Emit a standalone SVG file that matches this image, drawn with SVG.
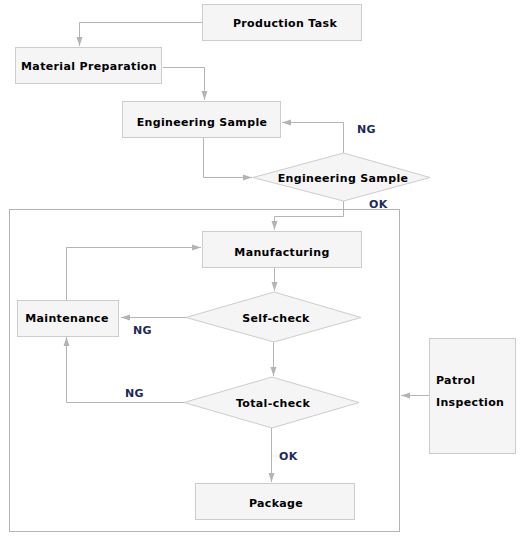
<svg xmlns="http://www.w3.org/2000/svg" width="526" height="549" viewBox="0 0 526 549">
<style>
.box{fill:#f5f5f5;stroke:#cccccc;stroke-width:1}
.dia{fill:#f5f5f5;stroke:#cccccc;stroke-width:1}
.t{font-family:"DejaVu Sans",Verdana,sans-serif;font-weight:bold;font-size:11px;letter-spacing:0.35px;fill:#000;text-anchor:middle;dominant-baseline:central}
.lbl{font-family:"DejaVu Sans",Verdana,sans-serif;font-weight:bold;font-size:11px;letter-spacing:0.35px;fill:#1a2a5a;dominant-baseline:central}
.c{fill:none;stroke:#b4b4b4;stroke-width:1}
</style>
<defs>
<marker id="ah" markerWidth="10" markerHeight="8" refX="9" refY="4" orient="auto" markerUnits="userSpaceOnUse">
<path d="M0,1 L9,4 L0,7 Z" fill="#b4b4b4"/>
</marker>
</defs>
<rect x="0" y="0" width="526" height="549" fill="#ffffff"/>
<g id="container"><rect x="9.5" y="209.5" width="390" height="322" fill="none" stroke="#b4b4b4"/></g>
<g id="connectors">
<path class="c" d="M202,22.5 H79.5 V46" marker-end="url(#ah)"/>
<path class="c" d="M163,67.5 H204.5 V100" marker-end="url(#ah)"/>
<path class="c" d="M203.5,137 V177.5 H252" marker-end="url(#ah)"/>
<path class="c" d="M343.5,153 V122.5 H282" marker-end="url(#ah)"/>
<path class="c" d="M343.5,201 V216.5 H274.5 V230" marker-end="url(#ah)"/>
<path class="c" d="M274.5,267 V291" marker-end="url(#ah)"/>
<path class="c" d="M186,317.5 H121" marker-end="url(#ah)"/>
<path class="c" d="M66.5,300 V247.5 H201" marker-end="url(#ah)"/>
<path class="c" d="M273.5,342 V376" marker-end="url(#ah)"/>
<path class="c" d="M184,402.5 H66.5 V337" marker-end="url(#ah)"/>
<path class="c" d="M271.5,428 V482" marker-end="url(#ah)"/>
<path class="c" d="M429,395.5 H401" marker-end="url(#ah)"/>
</g>
<g id="production-task"><rect class="box" x="202.5" y="4.5" width="159" height="36"/><text class="t" x="285" y="23">Production Task</text></g>
<g id="material-preparation"><rect class="box" x="15.5" y="47.5" width="146" height="36"/><text class="t" x="89" y="66">Material Preparation</text></g>
<g id="engineering-sample-box"><rect class="box" x="122.5" y="101.5" width="158" height="36"/><text class="t" x="202" y="122">Engineering Sample</text></g>
<g id="engineering-sample-decision"><polygon class="dia" points="253,177.5 343.5,153 430,177.5 343.5,201"/><text class="t" x="343" y="178">Engineering Sample</text></g>
<g id="manufacturing"><rect class="box" x="202.5" y="231.5" width="159" height="36"/><text class="t" x="282" y="252">Manufacturing</text></g>
<g id="self-check"><polygon class="dia" points="186,317.5 274,292 361,317.5 274,342"/><text class="t" x="276" y="318">Self-check</text></g>
<g id="maintenance"><rect class="box" x="17.5" y="300.5" width="101" height="36"/><text class="t" x="67" y="318">Maintenance</text></g>
<g id="total-check"><polygon class="dia" points="184,402.5 272,377 359,402.5 272,428"/><text class="t" x="273" y="403">Total-check</text></g>
<g id="package"><rect class="box" x="195.5" y="483.5" width="159" height="36"/><text class="t" x="276" y="503">Package</text></g>
<g id="patrol-inspection"><rect class="box" x="429.5" y="338.5" width="86" height="115"/><text class="t" x="436" y="380" style="text-anchor:start">Patrol</text><text class="t" x="436" y="402" style="text-anchor:start">Inspection</text></g>
<g id="labels">
<text class="lbl" x="357" y="129">NG</text>
<text class="lbl" x="369" y="204">OK</text>
<text class="lbl" x="133" y="330">NG</text>
<text class="lbl" x="125" y="393">NG</text>
<text class="lbl" x="279" y="456">OK</text>
</g>
</svg>
